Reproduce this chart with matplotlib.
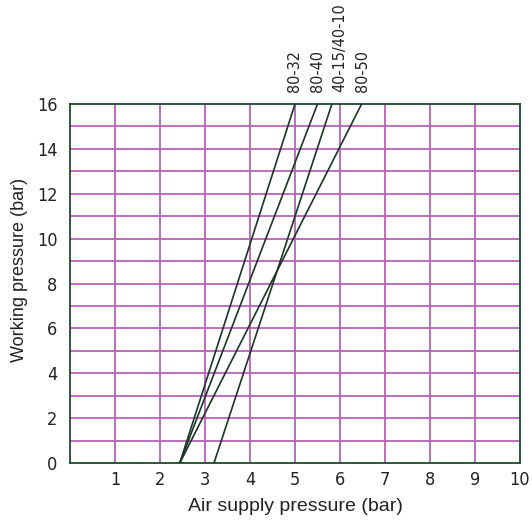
import matplotlib
matplotlib.use("Agg")
import matplotlib.pyplot as plt

# series: (name, x at 0 bar, x at 16 bar)
names = ["80-32", "80-40", "40-15/40-10", "80-50"]
x_start = [2.44, 2.44, 3.2, 2.44]
x_end = [5.0, 5.5, 5.82, 6.48]
y_start = [0, 0, 0, 0]
y_end = [16, 16, 16, 16]
label_x = [5.0, 5.5, 6.0, 6.5]

xticks = [1, 2, 3, 4, 5, 6, 7, 8, 9, 10]
yticks = [0, 2, 4, 6, 8, 10, 12, 14, 16]

grid_col = "#b862b8"
line_col = "#1b3524"
frame_col = "#1e4a2c"

# condensed face for the numbers
tick_kw = dict(family="DejaVu Sans", stretch="condensed")

fig = plt.figure(figsize=(5.32, 5.23), dpi=100)
ax = fig.add_axes([0.1316, 0.1147, 0.8458, 0.6864])

for v in range(1, 10):
    ax.axvline(v, color=grid_col, lw=1.3, zorder=1)
for h in range(1, 16):
    ax.axhline(h, color=grid_col, lw=1.3, zorder=1)

for i in range(len(names)):
    ax.plot([x_start[i], x_end[i]], [y_start[i], y_end[i]], color=line_col, lw=1.2, zorder=3)
    ax.text(label_x[i], 16.55, names[i], rotation=90, ha="center", va="bottom",
            fontsize=11.5, color="#222222", **tick_kw)

ax.set_xlim(0, 10)
ax.set_ylim(0, 16)
ax.set_xticks(xticks)
ax.set_yticks(yticks)
ax.set_xticklabels([str(t) for t in xticks], fontsize=13, **tick_kw)
ax.set_yticklabels([str(t) for t in yticks], fontsize=13, **tick_kw)
ax.tick_params(length=0, colors="#222222")
ax.tick_params(axis="x", pad=6)
ax.tick_params(axis="y", pad=9)
for s in ax.spines.values():
    s.set_color(frame_col)
    s.set_linewidth(1.3)

ax.set_xlabel("Air supply pressure (bar)", fontsize=14, family="Liberation Sans",
              color="#222222", labelpad=6)
ax.set_ylabel("Working pressure (bar)", fontsize=13, family="Liberation Sans",
              color="#222222")
ax.yaxis.set_label_coords(-0.093, 0.538)

fig.savefig("out.png", dpi=100)
